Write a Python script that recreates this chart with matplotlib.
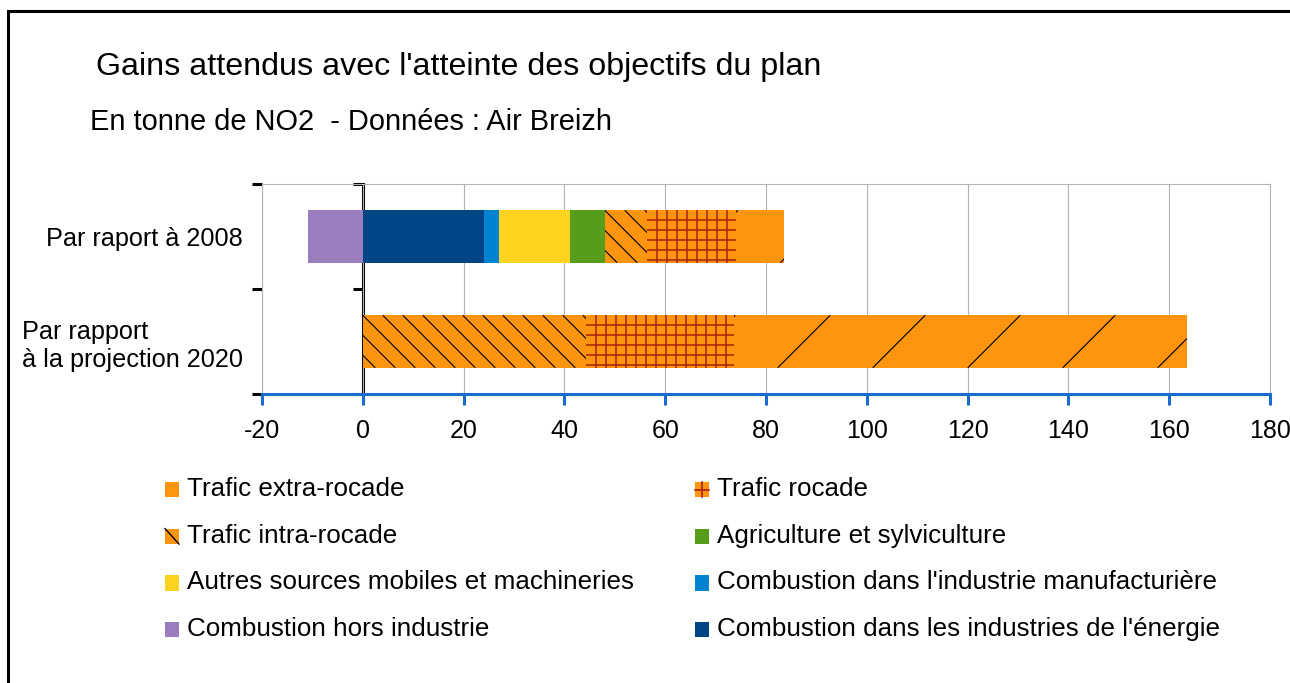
import numpy as np
import matplotlib
matplotlib.use("Agg")
import matplotlib.pyplot as plt
from matplotlib.patches import Rectangle
from matplotlib.lines import Line2D
from matplotlib.collections import LineCollection
from matplotlib.transforms import IdentityTransform

plt.rcParams['font.family'] = ['Liberation Sans', 'DejaVu Sans']
plt.rcParams['axes.unicode_minus'] = False

# Gains en tonnes de NO2, par secteur
categories = ["Par raport à 2008", "Par rapport\nà la projection 2020"]
sectors = [
    "Trafic extra-rocade",
    "Trafic rocade",
    "Trafic intra-rocade",
    "Agriculture et sylviculture",
    "Autres sources mobiles et machineries",
    "Combustion dans l'industrie manufacturière",
    "Combustion hors industrie",
    "Combustion dans les industries de l'énergie",
]
gain_2008 = [9.4, 17.8, 8.3, 6.9, 14.1, 3.0, -10.9, 24.0]
gain_2020 = [90.0, 29.4, 44.2, 0.0, 0.0, 0.0, 0.0, 0.0]
x_ticks = list(range(-20, 181, 20))

colors = ['#ff950e', '#ff950e', '#ff950e', '#579d1c',
          '#ffd320', '#0084d1', '#9a7dbe', '#004586']
hatches = ['extra', 'rocade', 'intra', None, None, None, None, None]
GRID_RED = '#a8200a'

W, H = 1290, 683
fig = plt.figure(figsize=(W / 100, H / 100), dpi=100)
ax = fig.add_axes([262 / W, 1 - 394 / H, 1008 / W, 210 / H])
ax.set_xlim(x_ticks[0], x_ticks[-1])
ax.set_ylim(1.5, -0.5)

values = np.array([gain_2008, gain_2020])
pos_left = np.zeros(len(categories))
neg_left = np.zeros(len(categories))
y = np.arange(len(categories))
bars = {}
# stacked from the last sector to the first, negatives going left of zero
for i in reversed(range(len(sectors))):
    v = values[:, i]
    left = np.where(v >= 0, pos_left, neg_left)
    bc = ax.barh(y, v, left=left, height=0.5, color=colors[i], linewidth=0, zorder=2)
    pos_left += np.where(v >= 0, v, 0)
    neg_left += np.where(v < 0, v, 0)
    bars[i] = bc


def hatch_bar(rect, kind):
    bb = rect.get_window_extent()
    if bb.width < 1:
        return
    x0, x1, y0, y1 = bb.x0, bb.x1, bb.y0, bb.y1
    h = y1 - y0
    segs = []
    if kind == 'intra':
        step = 20
        for k in range(-int(h // step) - 2, int(bb.width // step) + 2):
            xs = x0 + k * step
            segs.append([(xs, y1), (xs + h, y0)])
        lc = LineCollection(segs, colors='black', linewidths=0.8)
    elif kind == 'extra':
        step = 95
        for k in range(-2, int(bb.width // step) + 2):
            xs = x0 + 44 + k * step
            segs.append([(xs, y0), (xs + h, y1)])
        lc = LineCollection(segs, colors='black', linewidths=0.8)
    else:
        step = 10
        xs = x0 + step
        while xs < x1:
            segs.append([(xs, y0), (xs, y1)])
            xs += step
        ys = y1 - step
        while ys > y0:
            segs.append([(x0, ys), (x1, ys)])
            ys -= step
        lc = LineCollection(segs, colors=GRID_RED, linewidths=1.1)
    lc.set_transform(IdentityTransform())
    lc.set_zorder(2.2)
    ax.add_collection(lc, autolim=False)
    lc.set_clip_path(rect)


for i, kind in enumerate(hatches):
    if kind is None:
        continue
    for rect in bars[i]:
        hatch_bar(rect, kind)

# axes styling
ax.set_xticks(x_ticks)
ax.set_xticklabels([str(t) for t in x_ticks])
ax.grid(axis='x', color='#b3b3b3', linewidth=0.8, zorder=0)
ax.set_axisbelow(True)
for side in ['top', 'right', 'left']:
    ax.spines[side].set_color('#b3b3b3')
    ax.spines[side].set_linewidth(0.8)
ax.spines['bottom'].set_color('#1a6ccf')
ax.spines['bottom'].set_linewidth(2.2)
ax.tick_params(axis='x', direction='out', length=8, width=2.2, color='#1a6ccf',
               labelsize=18, pad=10)

ax.set_yticks([-0.5, 0.5, 1.5])
ax.set_yticklabels([])
ax.set_yticks(y, minor=True)
ax.set_yticklabels(categories, minor=True)
ax.tick_params(axis='y', which='major', direction='out', length=7, width=2.2, color='black')
ax.tick_params(axis='y', which='minor', length=0, pad=13.5, labelsize=18.2)
for lab in ax.get_yticklabels(minor=True):
    lab.set_multialignment('left')

# zero line with its own ticks
zero_pos = (0 - x_ticks[0]) / (x_ticks[-1] - x_ticks[0])
sec = ax.secondary_yaxis(zero_pos)
sec.set_yticks([-0.5, 0.5, 1.5])
sec.set_yticklabels([])
sec.tick_params(direction='out', length=7, width=2.2, color='black')
sec.spines['left'].set_linewidth(2.2)
sec.spines['left'].set_color('black')

# titles
fig.text(96 / W, 1 - 67 / H, "Gains attendus avec l'atteinte des objectifs du plan",
         fontsize=23.2, va='center', ha='left')
fig.text(90 / W, 1 - 122 / H, "En tonne de NO2  - Données : Air Breizh",
         fontsize=20.9, va='center', ha='left')


class HatchKey:
    """Legend key: a square with one hatch stroke drawn over it."""
    def __init__(self, face, stroke, color):
        self.face = face
        self.stroke = stroke
        self.color = color


class HatchKeyHandler:
    def legend_artist(self, legend, orig_handle, fontsize, handlebox):
        x0, y0 = handlebox.xdescent, handlebox.ydescent
        w, h = handlebox.width, handlebox.height
        tr = handlebox.get_transform()
        sq = Rectangle((x0, y0), w, h, facecolor=orig_handle.face, linewidth=0, transform=tr)
        handlebox.add_artist(sq)
        if orig_handle.stroke == 'back':
            handlebox.add_artist(Line2D([x0, x0 + w], [y0 + h, y0], color=orig_handle.color,
                                        linewidth=1.0, transform=tr))
        elif orig_handle.stroke == 'cross':
            handlebox.add_artist(Line2D([x0, x0 + w], [y0 + h / 2, y0 + h / 2],
                                        color=orig_handle.color, linewidth=1.2, transform=tr))
            handlebox.add_artist(Line2D([x0 + w / 2, x0 + w / 2], [y0, y0 + h],
                                        color=orig_handle.color, linewidth=1.2, transform=tr))
        return sq


# legend, filled row by row in two columns
handles = []
for i in range(len(sectors)):
    if hatches[i] == 'intra':
        handles.append(HatchKey(colors[i], 'back', 'black'))
    elif hatches[i] == 'rocade':
        handles.append(HatchKey(colors[i], 'cross', GRID_RED))
    else:
        handles.append(HatchKey(colors[i], None, None))
order = list(range(0, len(sectors), 2)) + list(range(1, len(sectors), 2))
fig.legend([handles[k] for k in order], [sectors[k] for k in order],
           handler_map={HatchKey: HatchKeyHandler()},
           ncol=2, loc='upper left', bbox_to_anchor=(165 / W, 1 - 477 / H),
           frameon=False, fontsize=18.7, handlelength=0.54, handleheight=0.54,
           handletextpad=0.3, labelspacing=0.87, columnspacing=2.35,
           borderpad=0, borderaxespad=0)

# outer frame
fig.add_artist(Rectangle((7.5 / W, -0.5), 2, 1.5 - 10.5 / H, transform=fig.transFigure,
                         fill=False, edgecolor='black', linewidth=2.2))

fig.savefig("out.png", dpi=100)
